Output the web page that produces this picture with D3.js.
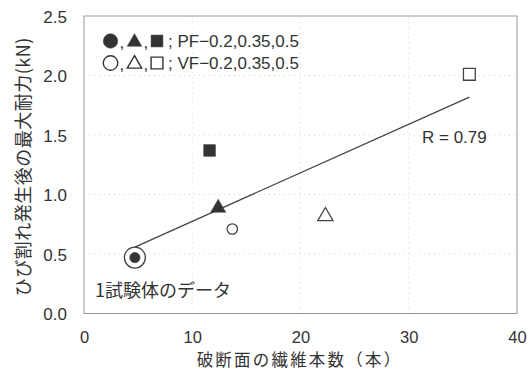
<!DOCTYPE html>
<html>
<head>
<meta charset="utf-8">
<script src="https://cdn.jsdelivr.net/npm/d3@7"></script>
<style>
  html, body { margin: 0; padding: 0; background: #fff; }
  svg text { font-family: "Noto Sans CJK JP", "Noto Sans", sans-serif; fill: #333; }
</style>
</head>
<body>
<svg id="chart" width="530" height="372"></svg>
<script>
// Fibre count at fracture surface vs. max load after cracking
const seriesNames = ["PF-0.2", "PF-0.35", "PF-0.5", "VF-0.2", "VF-0.35", "VF-0.5"];
const fiberCounts = [4.7, 12.4, 11.6, 13.7, 22.3, 35.6];
const maxLoads = [0.47, 0.90, 1.37, 0.71, 0.83, 2.01];
const shapes = ["circle", "triangle", "square", "circle", "triangle", "square"];
const filled = [true, true, true, false, false, false];
const xTicks = [0, 10, 20, 30, 40];
const yTicks = [0.0, 0.5, 1.0, 1.5, 2.0, 2.5];

const LATIN = "'Liberation Sans', Arial, sans-serif";
const svg = d3.select("#chart");
const margin = { left: 84, right: 13, top: 16, bottom: 58.5 };
const W = 530, H = 372;

const x = d3.scaleLinear().domain([0, 40]).range([margin.left, W - margin.right]);
const y = d3.scaleLinear().domain([0, 2.5]).range([H - margin.bottom, margin.top]);

// faint dotted grid
const grid = svg.append("g");
grid.selectAll("line.h").data(yTicks.slice(1, -1)).join("line")
  .attr("x1", x(0)).attr("x2", x(40))
  .attr("y1", d => y(d)).attr("y2", d => y(d))
  .attr("stroke", "#d4d4d4").attr("stroke-width", 1).attr("stroke-dasharray", "1,4");
grid.selectAll("line.v").data(xTicks.slice(1, -1)).join("line")
  .attr("y1", y(0)).attr("y2", y(2.5))
  .attr("x1", d => x(d)).attr("x2", d => x(d))
  .attr("stroke", "#d4d4d4").attr("stroke-width", 1).attr("stroke-dasharray", "1,4");

// plot frame
svg.append("rect")
  .attr("x", x(0)).attr("y", y(2.5))
  .attr("width", x(40) - x(0)).attr("height", y(0) - y(2.5))
  .attr("fill", "none").attr("stroke", "#999").attr("stroke-width", 1);

// axes
const xAxis = svg.append("g").attr("transform", `translate(0,${y(0)})`)
  .call(d3.axisBottom(x).tickValues(xTicks).tickSize(0).tickPadding(20).tickFormat(d3.format("d")));
const yAxis = svg.append("g").attr("transform", `translate(${x(0)},0)`)
  .call(d3.axisLeft(y).tickValues(yTicks).tickSize(0).tickPadding(17).tickFormat(d3.format(".1f")));
[xAxis, yAxis].forEach(a => {
  a.select(".domain").remove();
  a.selectAll("text").style("font-family", LATIN)
    .style("font-size", "17px").attr("fill", "#444");
});
xAxis.selectAll("text").style("font-size", "16.5px").attr("dy", "0.55em");
yAxis.selectAll("text").attr("dy", "0.36em");

// axis titles
svg.append("text")
  .attr("x", (x(0) + x(40)) / 2 - 1).attr("y", 366)
  .attr("text-anchor", "middle").style("font-size", "16.5px").style("letter-spacing", "2.2px")
  .text("破断面の繊維本数（本）");
svg.append("text")
  .attr("transform", `translate(30,${(y(0) + y(2.5)) / 2 + 2}) rotate(-90)`)
  .attr("text-anchor", "middle").style("font-size", "18px").style("letter-spacing", "0.5px")
  .text("ひび割れ発生後の最大耐力(kN)");

// least-squares regression line over the data range
const mx = d3.mean(fiberCounts), my = d3.mean(maxLoads);
let sxy = 0, sxx = 0, syy = 0;
fiberCounts.forEach((xv, i) => {
  sxy += (xv - mx) * (maxLoads[i] - my);
  sxx += (xv - mx) ** 2;
  syy += (maxLoads[i] - my) ** 2;
});
const slope = sxy / sxx, intercept = my - slope * mx;
const r = sxy / Math.sqrt(sxx * syy);
const xMin = d3.min(fiberCounts), xMax = d3.max(fiberCounts);
svg.append("line")
  .attr("x1", x(xMin)).attr("y1", y(intercept + slope * xMin))
  .attr("x2", x(xMax)).attr("y2", y(intercept + slope * xMax))
  .attr("stroke", "#444").attr("stroke-width", 1.3);

svg.append("text")
  .attr("x", 422).attr("y", 143)
  .style("font-family", LATIN).style("font-size", "17px")
  .attr("fill", "#444")
  .text(`R = ${r.toFixed(2)}`);

// markers
const symbolFor = { circle: d3.symbolCircle, triangle: d3.symbolTriangle, square: d3.symbolSquare };
const sizeFor = { circle: 85, triangle: 100, square: 140 };
const markers = svg.append("g");
fiberCounts.forEach((xv, i) => {
  const shape = shapes[i];
  const dy = shape === "triangle" ? 1.5 : 0;
  markers.append("path")
    .attr("d", d3.symbol().type(symbolFor[shape]).size(sizeFor[shape])())
    .attr("transform", `translate(${x(xv)},${y(maxLoads[i]) + dy})`)
    .attr("fill", filled[i] ? "#333" : "#fff")
    .attr("stroke", "#444")
    .attr("stroke-width", filled[i] ? 0.5 : 1.3);
});

// highlight ring around single-specimen point
svg.append("circle")
  .attr("cx", x(fiberCounts[0])).attr("cy", y(maxLoads[0]))
  .attr("r", 10.5).attr("fill", "none").attr("stroke", "#444").attr("stroke-width", 1.3);

svg.append("text")
  .attr("x", 95).attr("y", 297)
  .style("font-size", "18px")
  .text("1試験体のデータ");

// legend: three shape symbols per row, then the series names
const legendRows = [
  { fill: true, label: "; PF−0.2,0.35,0.5", y: 41 },
  { fill: false, label: "; VF−0.2,0.35,0.5", y: 63 }
];
const legendShapes = ["circle", "triangle", "square"];
const legendSizes = { circle: 165, triangle: 90, square: 140 };
const legendX = [110.5, 134.5, 157];
const legend = svg.append("g");
legendRows.forEach(row => {
  legendShapes.forEach((shape, k) => {
    legend.append("path")
      .attr("d", d3.symbol().type(symbolFor[shape]).size(legendSizes[shape])())
      .attr("transform", `translate(${legendX[k]},${row.y + (shape === "triangle" ? 1 : 0)})`)
      .attr("fill", row.fill ? "#333" : "#fff")
      .attr("stroke", "#333").attr("stroke-width", row.fill ? 0.5 : 1.4);
    if (k < 2) {
      legend.append("text")
        .attr("x", legendX[k] + 9).attr("y", row.y + 7)
        .style("font-family", LATIN).style("font-size", "17px")
        .text(",");
    }
  });
  legend.append("text")
    .attr("x", 168).attr("y", row.y + 6)
    .style("font-family", LATIN).style("font-size", "17px")
    .text(row.label);
});
</script>
</body>
</html>
